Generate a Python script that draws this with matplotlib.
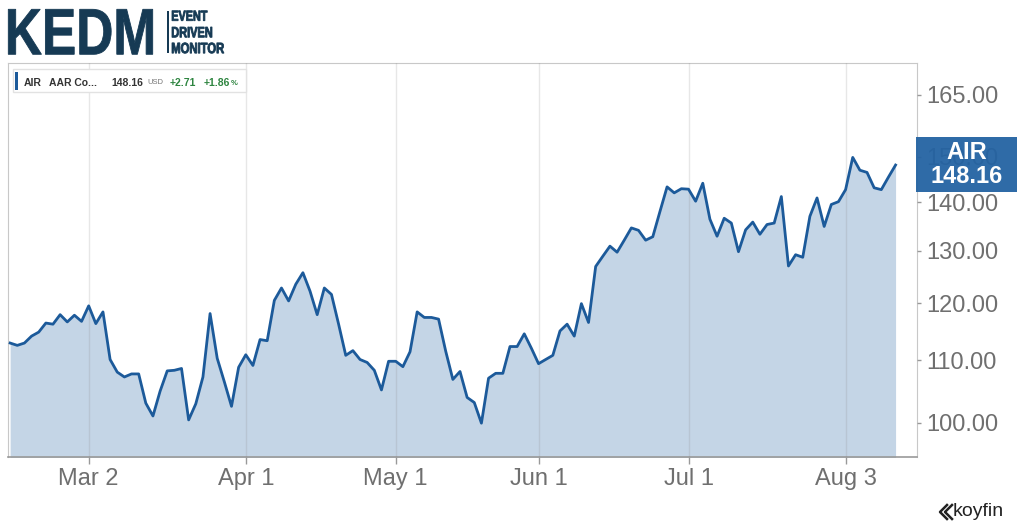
import numpy as np
import pandas as pd
import matplotlib
matplotlib.use("Agg")
import matplotlib.pyplot as plt
from matplotlib.textpath import TextPath
from matplotlib.patches import PathPatch, Rectangle
from matplotlib.font_manager import FontProperties
from matplotlib.transforms import Affine2D
from matplotlib.ticker import FixedLocator, NullLocator, FormatStrFormatter

plt.rcParams['font.family'] = ['Liberation Sans', 'DejaVu Sans']

# trading days shown on the chart
holidays = ['2026-02-16', '2026-04-03', '2026-05-25', '2026-06-19', '2026-07-03']
dates = pd.bdate_range('2026-02-12', '2026-08-12', freq='C', holidays=holidays)

price = [
    112.9, 112.5, 112.9, 114.1, 114.8, 116.4, 116.2, 117.9, 116.6, 117.8,
    116.7, 119.5, 116.3, 118.4, 110.1, 108.0, 107.2, 107.7, 107.7, 103.0,
    101.0, 104.9, 108.2, 108.3, 108.6, 100.4, 102.9, 107.2, 118.1, 110.3,
    106.4, 102.5, 108.8, 110.9, 109.1, 113.5, 113.3, 120.5, 122.8, 120.4,
    123.5, 125.7, 122.2, 117.9, 122.8, 121.6, 116.2, 110.8, 111.6, 110.1,
    109.6, 108.3, 105.1, 109.8, 109.8, 108.9, 111.4, 118.4, 117.4, 117.4,
    117.1, 111.5, 106.8, 108.1, 103.9, 103.1, 99.9, 107.0, 107.8, 107.8,
    112.3, 112.3, 114.5, 112.0, 109.4, 110.1, 110.8, 115.0, 116.2, 114.1,
    119.9, 116.5, 126.9, 128.9, 130.9, 129.7, 132.1, 134.6, 134.1, 132.1,
    132.8, 138.0, 143.3, 142.0, 142.9, 142.8, 140.2, 144.1, 136.4, 132.9,
    136.6, 135.6, 129.8, 134.2, 135.8, 133.3, 135.3, 135.6, 141.2, 127.0,
    129.2, 128.7, 137.0, 140.9, 134.9, 139.5, 140.1, 142.7, 149.9, 147.0,
    146.5, 143.1, 142.7, 145.45, 148.16,
]

tick_dates = ['2026-03-02', '2026-04-01', '2026-05-01', '2026-06-01', '2026-07-01', '2026-08-03']
price_ticks = [100, 110, 120, 130, 140, 150, 165]

ticker = 'AIR'
name = 'AAR Co...'
last = price[-1]
change = last - price[-2]
pct = change / price[-2] * 100

W, H = 1024, 529


def fx(x):
    return x / W


def fy(y):
    return 1 - y / H


x = np.arange(len(dates))
tick_pos = [dates.get_loc(pd.Timestamp(d)) for d in tick_dates]
tick_labels = [f"{pd.Timestamp(d):%b} {pd.Timestamp(d).day}" for d in tick_dates]

fig = plt.figure(figsize=(W / 100, H / 100), dpi=100)
ax = fig.add_axes([fx(8), fy(457), (917 - 8) / W, (457 - 63) / H])
ax.set_yscale('log')
ax.fill_between(x, price, 80, color='#c4d5e6', lw=0, zorder=1)
ax.plot(x, price, color='#1c5a9a', lw=2.0, zorder=3)
ax.set_xlim(-0.3, 127.0)
ax.set_ylim(94.87, 173.14)

ax.yaxis.tick_right()
ax.yaxis.set_major_locator(FixedLocator(price_ticks))
ax.yaxis.set_minor_locator(NullLocator())
ax.yaxis.set_major_formatter(FormatStrFormatter('%.2f'))
ax.set_xticks(tick_pos, tick_labels)
ax.set_axisbelow(False)
ax.grid(axis='x', color='#888888', alpha=0.2, lw=1)

ax.tick_params(axis='y', length=3, width=1, color='#999999', labelsize=17,
               labelcolor='#6f6f6f', pad=4)
ax.tick_params(axis='x', length=5, width=1, color='#999999', labelsize=17,
               labelcolor='#6f6f6f', pad=3)
for s in ['left', 'top', 'right']:
    ax.spines[s].set_color('#c8c8c8')
ax.spines['bottom'].set_color('#999999')
ax.spines['bottom'].set_linewidth(1.2)

# legend box
fig.add_artist(Rectangle((fx(13), fy(92)), (246 - 13) / W, (92 - 69) / H,
                         transform=fig.transFigure, facecolor='white',
                         edgecolor='#e2e2e2', lw=1))
fig.add_artist(Rectangle((fx(15), fy(90)), 3 / W, 18 / H, transform=fig.transFigure,
                         facecolor='#1c5a9a', edgecolor='none'))
ly = fy(82.5)
fig.text(fx(24), ly, ticker, fontsize=7.5, weight='bold', color='#333333', va='center')
fig.text(fx(49), ly, name, fontsize=7.5, weight='bold', color='#333333', va='center')
fig.text(fx(111), ly, f'{last:.2f}', fontsize=7.5, weight='bold', color='#333333', va='center')
fig.text(fx(147), ly, 'USD', fontsize=5.5, color='#777777', va='center')
fig.text(fx(170), ly, f'{change:+.2f}', fontsize=7.5, weight='bold', color='#2e8540', va='center')
fig.text(fx(204), ly, f'{pct:+.2f}', fontsize=7.5, weight='bold', color='#2e8540', va='center')
fig.text(fx(231), fy(83.5), '%', fontsize=5.5, weight='bold', color='#2e8540', va='center')

# last price box on the axis, drawn over the 150 label like the original
fig.add_artist(Rectangle((fx(916), fy(192)), 101 / W, 55 / H, transform=fig.transFigure,
                         facecolor='#2463a2', edgecolor='none', alpha=0.95))
fig.text(fx(966.5), fy(152), ticker, fontsize=17, weight='bold', color='white',
         ha='center', va='center')
fig.text(fx(966.5), fy(176), f'{last:.2f}', fontsize=17, weight='bold', color='white',
         ha='center', va='center')


def fit_text(s, x0, y0, x1, y1, color):
    prop = FontProperties(family='Liberation Sans', weight='bold')
    tp = TextPath((0, 0), s, size=10, prop=prop)
    ext = tp.get_extents()
    tr = (Affine2D().translate(-ext.x0, -ext.y0)
          .scale((x1 - x0) / W / ext.width, (y1 - y0) / H / ext.height)
          .translate(fx(x0), fy(y1)))
    fig.add_artist(PathPatch(tr.transform_path(tp), transform=fig.transFigure,
                             facecolor=color, edgecolor=color, lw=0.6))


navy = '#163a54'
fit_text('KEDM', 8.3, 9.3, 152.7, 54.3, navy)
fig.add_artist(Rectangle((fx(166.5), fy(53.3)), 2 / W, 42.6 / H, transform=fig.transFigure,
                         facecolor=navy, edgecolor='none'))
fit_text('EVENT', 172, 10.7, 207.3, 20.7, navy)
fit_text('DRIVEN', 172, 27, 212, 37.3, navy)
fit_text('MONITOR', 172, 42.7, 224, 53.3, navy)

# koyfin mark
for dx in (0, 5):
    fig.add_artist(plt.Line2D([fx(947 + dx), fx(940 + dx), fx(947 + dx)],
                              [fy(505), fy(512), fy(519)], transform=fig.transFigure,
                              color='#222222', lw=1.8))
fig.text(fx(953), fy(516.5), 'koyfin', fontsize=14, color='#222222', va='baseline')

fig.savefig('out.png', dpi=100)
